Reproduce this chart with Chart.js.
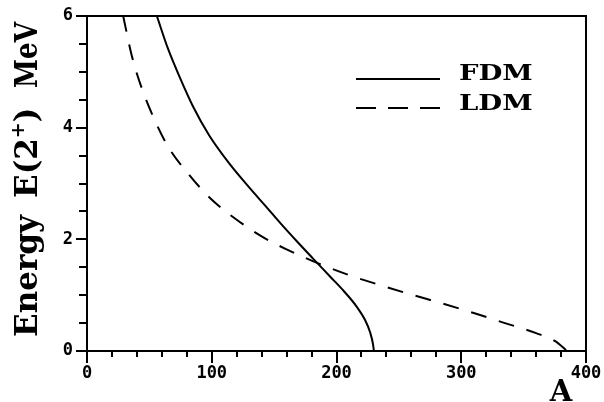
<!DOCTYPE html>
<html>
<head>
<meta charset="utf-8">
<script src="https://cdn.jsdelivr.net/npm/chart.js@4/dist/chart.umd.min.js"></script>
<style>
html,body{margin:0;padding:0;background:#fff;}
canvas{display:block;}
</style>
</head>
<body>
<canvas id="c" width="604" height="402"></canvas>
<script>
// ---- data ----
const fdmA = [56, 65, 75, 85, 98, 114, 130, 143, 155, 168, 181, 195, 206, 216, 223, 227, 229.3, 230];
const fdmE = [6.0, 5.41, 4.87, 4.38, 3.86, 3.36, 2.93, 2.60, 2.29, 1.97, 1.66, 1.33, 1.07, 0.80, 0.55, 0.33, 0.12, 0];
const ldmA = [29, 36, 44, 53, 65, 81, 98.6, 120, 141, 160, 181, 210, 235, 260, 285, 310, 335, 360, 375, 385];
const ldmE = [6.0, 5.28, 4.70, 4.20, 3.66, 3.18, 2.74, 2.35, 2.04, 1.82, 1.61, 1.36, 1.18, 1.01, 0.85, 0.68, 0.50, 0.32, 0.18, 0];
const seriesNames = ['FDM', 'LDM'];
const xTickValues = [0, 100, 200, 300, 400];
const yTickValues = [0, 2, 4, 6];
const yTitleParts = ['Energy', 'E(2', '+', ')', 'MeV'];
const xTitle = 'A';

const toXY = (xs, ys) => xs.map((a, i) => ({x: a, y: ys[i]}));

const decor = {
  id: 'decor',
  afterDraw(chart) {
    const ctx = chart.ctx, ca = chart.chartArea;
    const xs = chart.scales.x, ys = chart.scales.y;
    ctx.save();
    ctx.setLineDash([]);
    ctx.strokeStyle = '#000';
    ctx.fillStyle = '#000';
    ctx.lineWidth = 2;
    ctx.lineCap = 'butt';
    // frame top/right
    ctx.beginPath();
    ctx.moveTo(ca.left - 1, ca.top);
    ctx.lineTo(ca.right, ca.top);
    ctx.lineTo(ca.right, ca.bottom);
    ctx.stroke();
    // x ticks
    for (let i = 0; i <= 20; i++) {
      const v = i * 20;
      const p = Math.round(xs.getPixelForValue(v));
      const len = (i % 5 === 0) ? 12 : 6;
      ctx.beginPath();
      ctx.moveTo(p, ca.bottom);
      ctx.lineTo(p, ca.bottom + len);
      ctx.stroke();
    }
    // y ticks
    for (let i = 0; i <= 12; i++) {
      const v = i * 0.5;
      const p = Math.round(ys.getPixelForValue(v));
      const len = (i % 4 === 0) ? 11 : 8;
      ctx.beginPath();
      ctx.moveTo(ca.left, p);
      ctx.lineTo(ca.left - len, p);
      ctx.stroke();
    }

    // legend
    ctx.beginPath();
    ctx.moveTo(356, 79); ctx.lineTo(440, 79);
    ctx.stroke();
    ctx.setLineDash([20, 12]);
    ctx.beginPath();
    ctx.moveTo(356, 108); ctx.lineTo(440, 108);
    ctx.stroke();
    ctx.setLineDash([]);
    ctx.font = 'bold 22px "DejaVu Serif"';
    ctx.textAlign = 'left';
    ctx.textBaseline = 'alphabetic';
    [[seriesNames[0], 80], [seriesNames[1], 110]].forEach(([t, by]) => {
      ctx.save();
      ctx.translate(459, by);
      ctx.scale(1.25, 1);
      ctx.fillText(t, 0, 0);
      ctx.restore();
    });

    // x title
    ctx.font = 'bold 29px "DejaVu Serif"';
    ctx.textAlign = 'center';
    ctx.fillText(xTitle, 561, 401);

    // y title (rotated)
    ctx.save();
    ctx.translate(37, 0);
    ctx.rotate(-Math.PI / 2);
    ctx.textAlign = 'left';
    const big = 'bold 31px "DejaVu Serif"';
    const sup = 'bold 19px "DejaVu Serif"';
    ctx.font = big;
    ctx.fillText(yTitleParts[0], -337, 0);
    let pos = -198;
    ctx.fillText(yTitleParts[1], pos, 0);
    pos += ctx.measureText(yTitleParts[1]).width;
    ctx.font = sup;
    ctx.fillText(yTitleParts[2], pos, -13);
    pos += ctx.measureText(yTitleParts[2]).width;
    ctx.font = big;
    ctx.fillText(yTitleParts[3], pos, 0);
    const w = ctx.measureText(yTitleParts[4]).width;
    ctx.save();
    ctx.translate(-88, 0);
    ctx.scale(66 / w, 1);
    ctx.fillText(yTitleParts[4], 0, 0);
    ctx.restore();
    ctx.restore();

    ctx.restore();
  }
};

new Chart(document.getElementById('c'), {
  type: 'scatter',
  data: {
    datasets: [
      {
        label: seriesNames[0],
        data: toXY(fdmA, fdmE),
        showLine: true,
        borderColor: '#000',
        borderWidth: 2,
        pointRadius: 0,
        cubicInterpolationMode: 'monotone',
        fill: false
      },
      {
        label: seriesNames[1],
        data: toXY(ldmA, ldmE),
        showLine: true,
        borderColor: '#000',
        borderWidth: 2,
        borderDash: [16, 13],
        pointRadius: 0,
        cubicInterpolationMode: 'monotone',
        fill: false
      }
    ]
  },
  options: {
    responsive: false,
    animation: false,
    devicePixelRatio: 1,
    layout: {padding: {left: 0, right: 18, top: 16, bottom: 0}},
    plugins: {legend: {display: false}, tooltip: {enabled: false}},
    scales: {
      x: {
        type: 'linear',
        min: 0, max: 400,
        afterFit(s) { s.height = 51; s.paddingLeft = 0; s.paddingRight = 0; },
        afterBuildTicks(s) { s.ticks = xTickValues.map(v => ({value: v})); },
        grid: {display: true, drawOnChartArea: false, drawTicks: false},
        border: {display: true, color: '#000', width: 2},
        ticks: {
          padding: 12,
          color: '#000',
          maxRotation: 0,
          font: {family: '"DejaVu Sans Mono"', size: 17, weight: 'bold'}
        }
      },
      y: {
        type: 'linear',
        min: 0, max: 6,
        afterFit(s) { s.width = 87; s.paddingTop = 0; s.paddingBottom = 0; },
        afterBuildTicks(s) { s.ticks = yTickValues.map(v => ({value: v})); },
        grid: {display: true, drawOnChartArea: false, drawTicks: false},
        border: {display: true, color: '#000', width: 2},
        ticks: {
          padding: 14,
          color: '#000',
          font: {family: '"DejaVu Sans Mono"', size: 17, weight: 'bold'}
        }
      }
    }
  },
  plugins: [decor]
});
</script>
</body>
</html>
